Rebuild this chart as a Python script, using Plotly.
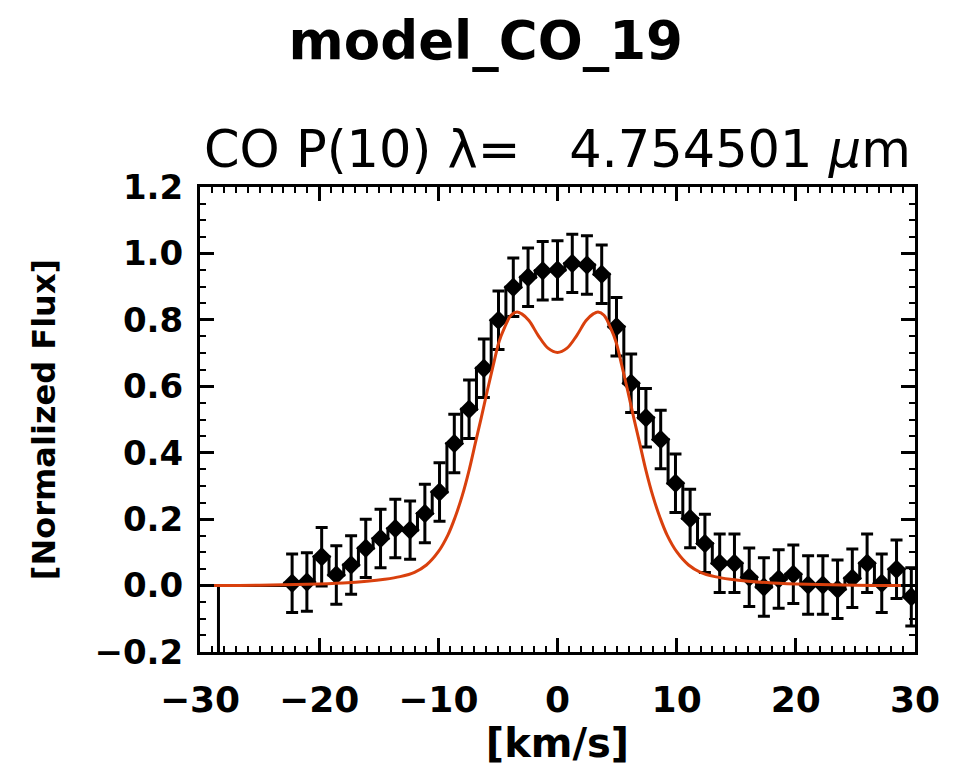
import plotly.graph_objects as go

# Observed spectrum (bin centres, km/s) and normalized flux
obs_v = [-22.27, -21.03, -19.79, -18.56, -17.32, -16.09, -14.85, -13.61, -12.37, -11.13,
         -9.90, -8.66, -7.42, -6.18, -4.95, -3.71, -2.47, -1.24, 0.00, 1.24,
         2.47, 3.71, 4.95, 6.18, 7.42, 8.66, 9.90, 11.13, 12.37, 13.61,
         14.85, 16.09, 17.32, 18.56, 19.79, 21.03, 22.27, 23.50, 24.74, 25.98,
         27.21, 28.45, 29.69]
obs_flux = [0.007, 0.011, 0.087, 0.032, 0.062, 0.112, 0.142, 0.172, 0.167, 0.217,
            0.282, 0.428, 0.531, 0.654, 0.799, 0.898, 0.928, 0.948, 0.950, 0.970,
            0.965, 0.937, 0.779, 0.609, 0.505, 0.440, 0.308, 0.202, 0.127, 0.067,
            0.067, 0.025, -0.004, 0.020, 0.034, 0.002, 0.002, -0.011, 0.022, 0.067,
            0.007, 0.049, -0.034]
obs_err = [0.088] * len(obs_v)

# Leading (blank) part of the spectrum drawn only by the histogram
pad_v = [-28.45, -28.45, -27.21, -25.98, -24.74, -23.50]
pad_flux = [-0.5, 0.0, 0.0, 0.0, 0.0, 0.0]

# Model line profile
model_v = [-30.0, -25.0, -21.0, -18.0, -16.0, -14.5, -13.2, -12.0, -11.0, -10.0,
           -9.2, -8.6, -8.0, -7.4, -6.9, -6.4, -5.9, -5.4, -4.9, -4.5,
           -3.9, -3.4, -3.0, -2.4, -1.6, -0.8, 0.0, 0.8, 1.6, 2.4,
           3.0, 3.4, 3.9, 4.5, 4.9, 5.4, 5.9, 6.4, 6.9, 7.4,
           8.0, 8.6, 9.2, 10.0, 11.0, 12.0, 13.2, 14.5, 16.0, 18.0,
           21.0, 25.0, 30.0]
model_flux = [0.000, 0.001, 0.004, 0.008, 0.013, 0.019, 0.027, 0.040, 0.062, 0.102,
              0.152, 0.205, 0.270, 0.350, 0.428, 0.505, 0.585, 0.662, 0.735, 0.772,
              0.814, 0.824, 0.818, 0.798, 0.752, 0.715, 0.702, 0.715, 0.752, 0.798,
              0.818, 0.824, 0.814, 0.772, 0.735, 0.662, 0.585, 0.505, 0.428, 0.350,
              0.270, 0.205, 0.152, 0.102, 0.062, 0.040, 0.027, 0.019, 0.013, 0.008,
              0.004, 0.001, 0.000]

x_ticks = [-30, -20, -10, 0, 10, 20, 30]
x_ticktext = ["\u221230", "\u221220", "\u221210", "0", "10", "20", "30"]
y_ticks = [-0.2, 0.0, 0.2, 0.4, 0.6, 0.8, 1.0, 1.2]

title_text = "model_CO_19"
subtitle_text = "CO P(10) \u03bb=\u00a0\u00a0 4.754501 <i>\u03bc</i>m"

FONT = "DejaVu Sans"
RED = "#D9400D"

fig = go.Figure()

fig.add_trace(go.Scatter(
    x=pad_v + obs_v, y=pad_flux + obs_flux, mode="lines",
    line=dict(shape="hvh", color="black", width=3),
    hoverinfo="skip", showlegend=False))

fig.add_trace(go.Scatter(
    x=obs_v, y=obs_flux, mode="markers",
    marker=dict(symbol="diamond", size=15, color="black"),
    error_y=dict(type="data", array=obs_err, color="black", thickness=3, width=6),
    showlegend=False))

fig.add_trace(go.Scatter(
    x=model_v, y=model_flux, mode="lines",
    line=dict(shape="spline", color=RED, width=3, smoothing=1.0),
    showlegend=False))

axis_common = dict(
    showline=True, linecolor="black", linewidth=3, mirror="allticks",
    ticks="inside", ticklen=14, tickwidth=2.5, tickcolor="black",
    showgrid=False, zeroline=False,
)

fig.update_xaxes(
    range=[-30, 30], tickvals=x_ticks, ticktext=x_ticktext,
    tickfont=dict(family=FONT, size=36, color="black", weight="bold"),
    minor=dict(dtick=1, ticks="inside", ticklen=6, tickwidth=2, tickcolor="black"),
    title=dict(text="[km/s]", font=dict(family=FONT, size=40, color="black", weight="bold"), standoff=0),
    ticklabelstandoff=14,
    **axis_common)

fig.update_yaxes(
    range=[-0.2, 1.2], tickvals=y_ticks, tickformat=".1f",
    tickfont=dict(family=FONT, size=34, color="black", weight="bold"),
    minor=dict(dtick=0.05, ticks="inside", ticklen=6, tickwidth=2, tickcolor="black"),
    title=dict(text="[Normalized Flux]", font=dict(family=FONT, size=32, color="black", weight="bold"), standoff=30),
    ticklabelstandoff=7,
    **axis_common)

fig.update_layout(
    width=962, height=771,
    margin=dict(l=200, r=47, t=187, b=119),
    paper_bgcolor="white", plot_bgcolor="white",
    title=dict(text=title_text, x=0.505, xanchor="center", y=0.948, yanchor="middle",
               font=dict(family=FONT, size=53, color="black", weight="bold")),
    annotations=[dict(text=subtitle_text, xref="paper", yref="paper", x=0.5, y=1.08,
                      xanchor="center", yanchor="middle", showarrow=False,
                      font=dict(family=FONT, size=51, color="black"))],
)

fig.write_html("out.html", config={"displayModeBar": False},
               post_script="document.body.style.margin='0px';")
